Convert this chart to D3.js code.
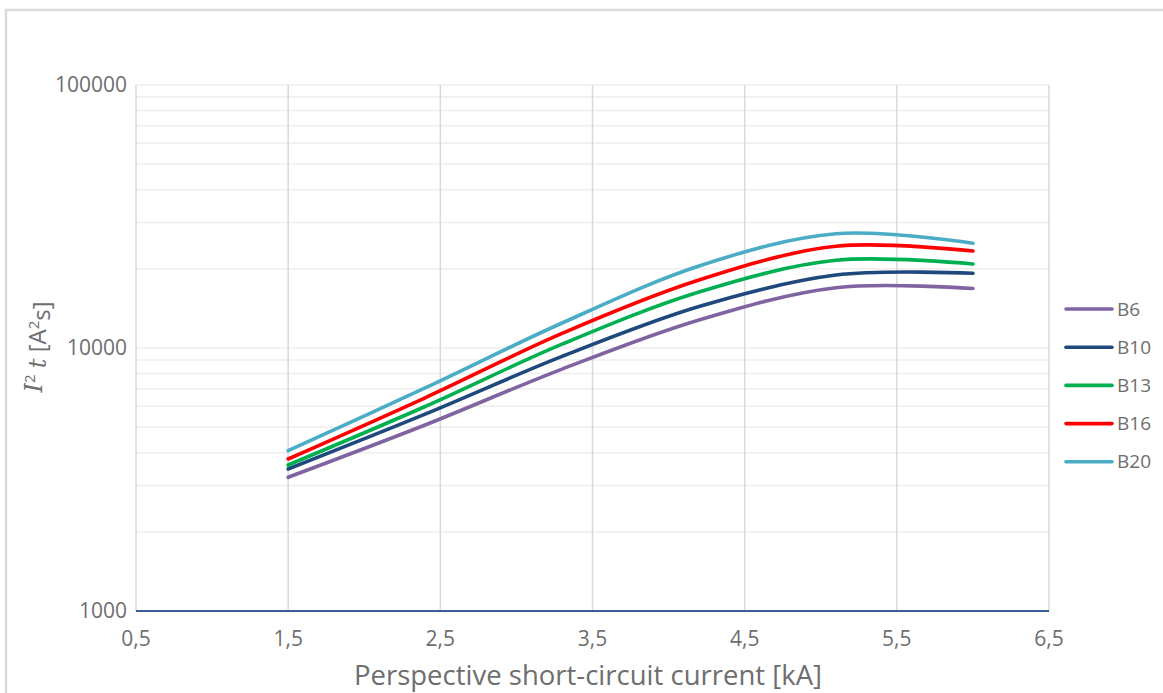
<!DOCTYPE html>
<html><head><meta charset="utf-8">
<script src="https://cdn.jsdelivr.net/npm/d3@7"></script>
<style>
html,body{margin:0;padding:0;background:#fff;}
svg{display:block;}
text{font-family:"Open Sans","Noto Sans",sans-serif;fill:#6e6e6e;}
</style></head>
<body><svg id="c" width="1163" height="693"></svg>
<script>
const currents = [1.5, 2.4, 3.3, 4.2, 5.1, 6];
const B6  = [3224, 5096, 8314, 12781, 16956, 16840];
const B10 = [3467, 5606, 9291, 14382, 18946, 19230];
const B13 = [3590, 5992, 10338, 16329, 21546, 20870];
const B16 = [3784, 6467, 11363, 18135, 24361, 23380];
const B20 = [4069, 7047, 12446, 20502, 27203, 25010];
const seriesNames = ["B6", "B10", "B13", "B16", "B20"];
const seriesColors = ["#8064a2", "#1f497d", "#00b050", "#ff0000", "#4bacc6"];
const xTicks = [0.5, 1.5, 2.5, 3.5, 4.5, 5.5, 6.5];
const xTickLabels = ["0,5", "1,5", "2,5", "3,5", "4,5", "5,5", "6,5"];
const yTicks = [1000, 10000, 100000];

const series = [B6, B10, B13, B16, B20];
const svg = d3.select("#c");

// outer frame
svg.append("path").attr("d", "M6,693V10H1163").attr("fill", "none")
  .attr("stroke", "#dadada").attr("stroke-width", 2.5);

const L = 136, R = 1049, T = 85, B = 611;
const x = d3.scaleLinear().domain([0.5, 6.5]).range([L, R]);
const y = d3.scaleLog().domain([1000, 100000]).range([B, T]);

// minor horizontal gridlines
const minor = [];
for (let d = 1000; d < 100000; d *= 10) for (let k = 2; k <= 10; k++) minor.push(d * k);
svg.append("g").selectAll("line").data(minor).join("line")
  .attr("x1", L).attr("x2", R).attr("y1", d => y(d)).attr("y2", d => y(d))
  .attr("stroke", "#eeeeee").attr("stroke-width", 1.5);

// vertical gridlines
svg.append("g").selectAll("line").data(xTicks).join("line")
  .attr("x1", d => x(d)).attr("x2", d => x(d)).attr("y1", T).attr("y2", B)
  .attr("stroke", "#d9d9d9").attr("stroke-width", 1.5);

// x axis line
svg.append("line").attr("x1", L).attr("x2", R).attr("y1", y(1000)).attr("y2", y(1000))
  .attr("stroke", "#3a5f95").attr("stroke-width", 2);

// y tick labels
svg.append("g").selectAll("text").data(yTicks).join("text")
  .attr("x", L - 9).attr("y", d => y(d)).attr("dy", "0.35em")
  .attr("text-anchor", "end").style("font-size", "21px").text(d => d);

// x tick labels
svg.append("g").selectAll("text").data(xTicks).join("text")
  .attr("x", d => x(d)).attr("y", 646).attr("text-anchor", "middle")
  .style("font-size", "21px").text((d, i) => xTickLabels[i]);

// x title
svg.append("text").attr("x", 588).attr("y", 685).attr("text-anchor", "middle")
  .style("font-size", "27.5px").text("Perspective short-circuit current [kA]");

// y title
const yt = svg.append("text").attr("transform", "translate(42,347) rotate(-90)")
  .attr("text-anchor", "middle").style("font-size", "24px");
yt.append("tspan").style("font-family", "'DejaVu Serif','Liberation Serif',serif").style("font-style", "italic").text("I");
yt.append("tspan").attr("dy", "-0.45em").style("font-size", "15px").text("2");
yt.append("tspan").attr("dy", "0.45em").text(" ");
yt.append("tspan").style("font-family", "'DejaVu Serif','Liberation Serif',serif").style("font-style", "italic").text("t");
yt.append("tspan").text(" [A");
yt.append("tspan").attr("dy", "-0.45em").style("font-size", "15px").text("2");
yt.append("tspan").attr("dy", "0.45em").text("s]");

// lines
const line = d3.line().x((d, i) => x(currents[i])).y(d => y(d)).curve(d3.curveCardinal.tension(0));
svg.append("g").selectAll("path").data(series).join("path")
  .attr("d", d => line(d)).attr("fill", "none")
  .attr("stroke", (d, i) => seriesColors[i]).attr("stroke-width", 3.6)
  .attr("stroke-linecap", "round").attr("stroke-linejoin", "round");

// legend
const lg = svg.append("g").selectAll("g").data(seriesNames).join("g")
  .attr("transform", (d, i) => `translate(1066,${309 + i * 38.2})`);
lg.append("line").attr("x1", 0).attr("x2", 46).attr("stroke", (d, i) => seriesColors[i])
  .attr("stroke-width", 3.6).attr("stroke-linecap", "round");
lg.append("text").attr("x", 51).attr("dy", "0.35em").style("font-size", "19px").text(d => d);
</script></body></html>
